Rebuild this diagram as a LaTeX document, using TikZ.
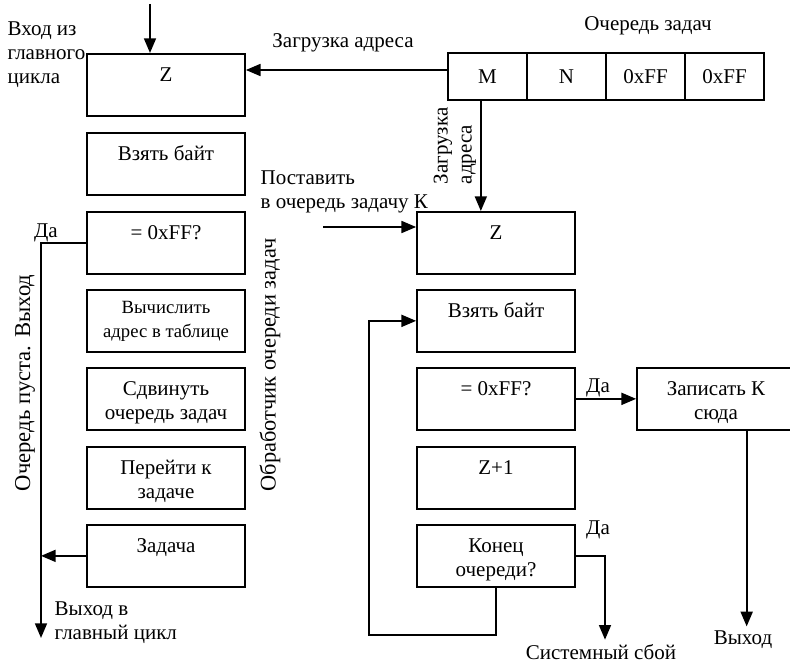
\documentclass[tikz,border=0pt]{standalone}
\usepackage{fontspec}
\setmainfont{Liberation Serif}
\usetikzlibrary{arrows.meta}

\tikzset{
  blok/.style={draw, line width=1.3pt, inner sep=0pt, anchor=north, text width=118.5pt,
    minimum height=46.5pt, align=flush center, text height=21pt, text depth=25.5pt},
  yach/.style={draw, line width=1.3pt, inner sep=0pt, minimum width=59.25pt, minimum height=35.25pt},
  strelka/.style={line width=1.3pt, -{Triangle[length=11pt,width=9pt]}},
}

\begin{document}
\begin{tikzpicture}[x=0.75pt, y=-0.75pt, font=\fontsize{15.75}{18}\selectfont]
\useasboundingbox (0,0) rectangle (790,663);

% ochered zadach
\foreach \t [count=\i] in {M,N,0xFF,0xFF}
  \node[yach] (q\i) at (408.5+79*\i,76.5) {\t};
\node (ochz) at (648,26) {Очередь задач};

% obrabotchik (levaya kolonka)
\node[blok] (z1) at (166,53) {Z};
\node[blok] (vz1) at (166,132) {Взять байт};
\node[blok] (ff1) at (166,211) {= 0xFF?};
\node[blok, text height=18pt, text depth=28.5pt] (adr) at (166,289)
  {\fontsize{14}{17}\selectfont Вычислить\\адрес в таблице};
\node[blok] (sdv) at (166,367) {Сдвинуть\\очередь задач};
\node[blok] (per) at (166,446) {Перейти к\\задаче};
\node[blok] (zad) at (166,524) {Задача};

% postanovka v ochered (pravaya kolonka)
\node[blok] (z2) at (496,211) {Z};
\node[blok] (vz2) at (496,289) {Взять байт};
\node[blok] (ff2) at (496,367) {= 0xFF?};
\node[blok] (zp1) at (496,446) {Z+1};
\node[blok] (kon) at (496,524) {Конец\\очереди?};
\node[blok] (zap) at (716,367) {Записать К\\сюда};

% podpisi
\node (zagr) at (343,43) {Загрузка адреса};
\node[rotate=90, align=left, anchor=west] (zagr2) at (455,189) {Загрузка\\адреса};
\node[align=left, anchor=north west] (vhod) at (3,17) {Вход из\\главного\\цикла};
\node[align=left, anchor=north west] (post) at (256,166) {Поставить\\в очередь задачу К};
\node[rotate=90, font=\fontsize{17}{20}\selectfont] (pusto) at (25,383) {Очередь пуста. Выход};
\node[rotate=90, font=\fontsize{16.8}{20}\selectfont] (obr) at (270,365) {Обработчик очереди задач};
\node (da1) at (46,233) {Да};
\node (da2) at (598,388) {Да};
\node (da3) at (598,530) {Да};
\node[align=left, anchor=north west] (vyh1) at (50,597) {Выход в\\главный цикл};
\node (vyh2) at (743,640) {Выход};
\node (sboy) at (601,652) {Системный сбой};

% strelki
\coordinate (vh) at (150,4);
\coordinate (vyhod) at (41,638);
\coordinate (post0) at (323,227);
\coordinate (petlya) at (369,635);
\draw[strelka] (vh) -- (vh |- z1.north);
\draw[strelka] (q1.west |- 0,70) -- (z1.east |- 0,70);
\draw[strelka] (ff1.west) -| (vyhod);
\draw[strelka] (zad.west) -- (zad.west -| vyhod);
\draw[strelka] ([xshift=-5pt]q1.south) -- ([xshift=-5pt]q1.south |- z2.north);
\draw[strelka] (post0) -- (post0 -| z2.west);
\draw[strelka] (kon.south) |- (petlya) |- (vz2.west);
\draw[strelka] (ff2.east) -- (zap.west);
\draw[strelka] ([xshift=23pt]zap.south) -- ([xshift=23pt]zap.south |- vyh2.north);
\draw[strelka] (kon.east) -| ([xshift=3pt]sboy.north);
\end{tikzpicture}
\end{document}
